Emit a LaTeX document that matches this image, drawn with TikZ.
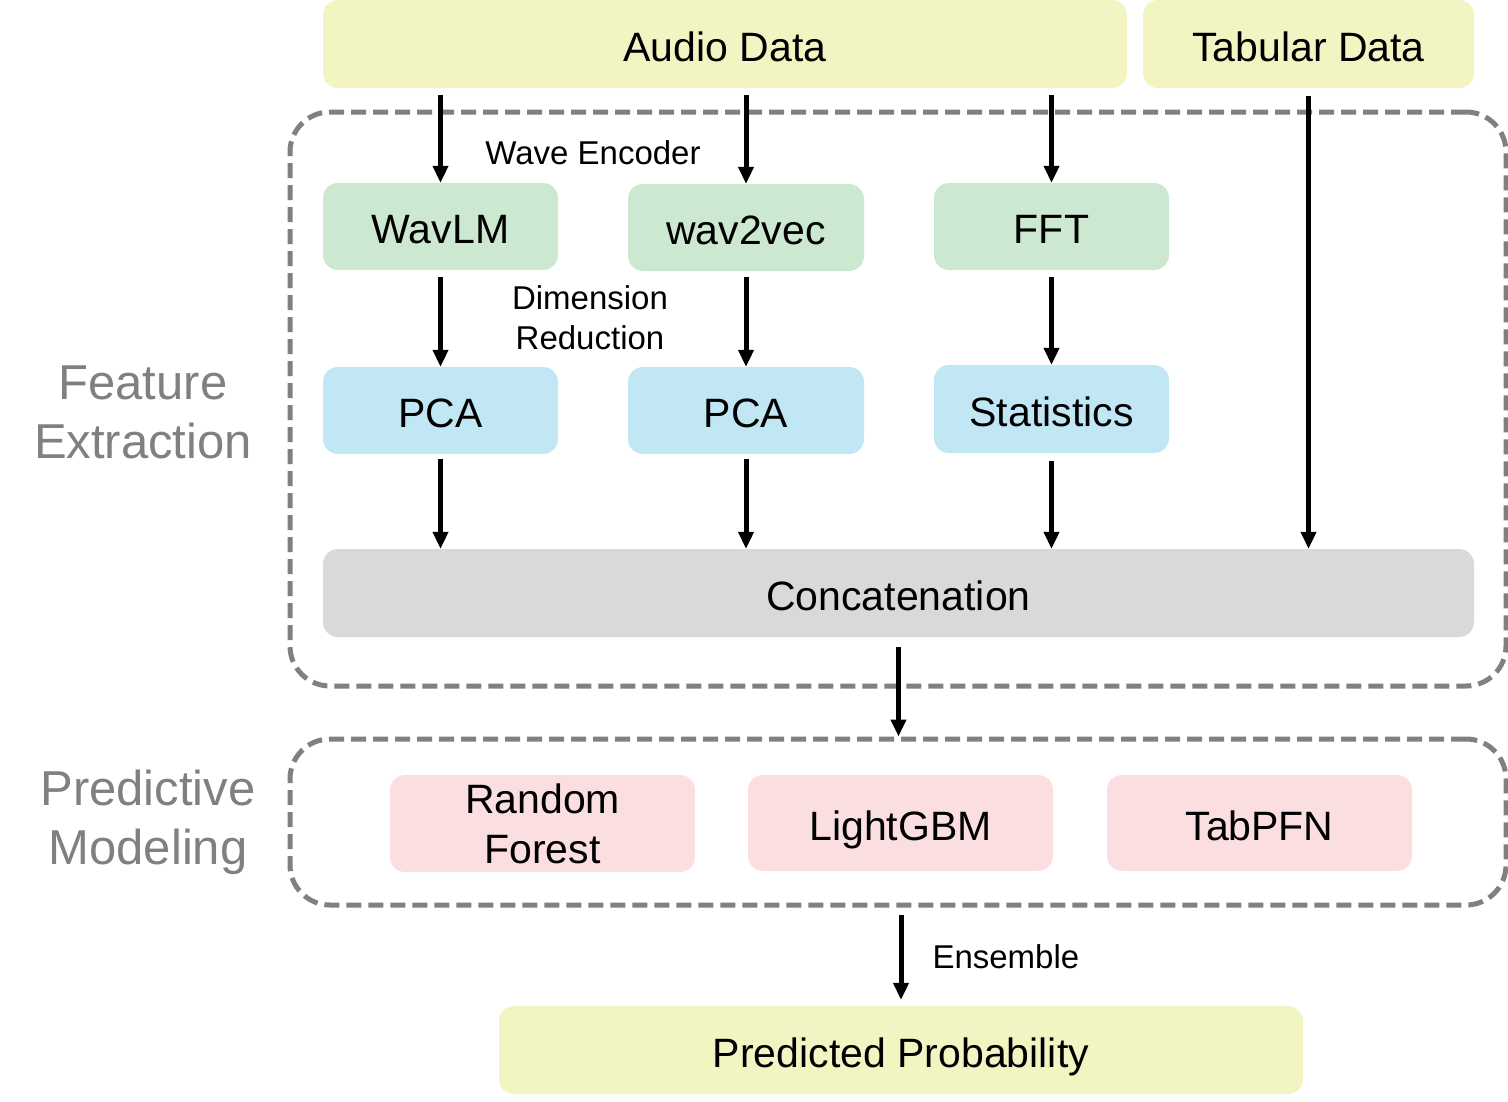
\documentclass[tikz,border=0pt]{standalone}
\usepackage{fontspec}
\setmainfont{Liberation Sans}
\usetikzlibrary{arrows.meta,calc}
\definecolor{cyel}{HTML}{F2F5C2}
\definecolor{cgrn}{HTML}{CDE8D1}
\definecolor{cblu}{HTML}{C1E7F5}
\definecolor{cgry}{HTML}{D9D9D9}
\definecolor{cpnk}{HTML}{FADEE0}
\definecolor{cdash}{HTML}{808080}
\tikzset{
  boxbase/.style={rectangle, rounded corners=15pt, inner sep=0pt, align=center,
    font=\fontsize{41}{50}\selectfont},
  oneline/.style={text height=40pt, text depth=6pt},
  yelbox/.style={boxbase, oneline, fill=cyel},
  grnbox/.style={boxbase, oneline, fill=cgrn},
  blubox/.style={boxbase, oneline, fill=cblu},
  grybox/.style={boxbase, oneline, fill=cgry},
  pnkbox/.style={boxbase, fill=cpnk},
  groupbox/.style={rectangle, rounded corners=40pt, draw=cdash, line width=5pt,
    dash pattern=on 15pt off 7pt, inner sep=0pt},
  sidelabel/.style={text=cdash, align=center, font=\fontsize{49}{59}\selectfont},
  smalllabel/.style={align=center, font=\fontsize{33}{40}\selectfont},
  arr/.style={line width=5pt, -{Triangle[length=17pt,width=15pt]}},
}
\begin{document}
\begin{tikzpicture}[x=1pt,y=-1pt]
\useasboundingbox (0,0) rectangle (1508,1101);
% group boxes
\node[groupbox, minimum width=1216pt, minimum height=574pt] (fe) at (898,399) {};
\node[groupbox, minimum width=1216pt, minimum height=166pt] (pm) at (898,822) {};
% top data
\node[yelbox, minimum width=804pt, minimum height=88pt] (audio) at (725,44) {Audio Data};
\node[yelbox, minimum width=331pt, minimum height=88pt] (tab) at (1308.5,44) {Tabular Data};
% encoders
\node[grnbox, minimum width=235pt, minimum height=87pt] (wavlm) at (440.5,226.5) {WavLM};
\node[grnbox, minimum width=236pt, minimum height=87pt] (w2v) at (746,227.5) {wav2vec};
\node[grnbox, minimum width=235pt, minimum height=87pt] (fft) at (1051.5,226.5) {FFT};
% reduction
\node[blubox, minimum width=235pt, minimum height=87pt] (pca1) at (440.5,410.5) {PCA};
\node[blubox, minimum width=236pt, minimum height=87pt] (pca2) at (746,410.5) {PCA};
\node[blubox, minimum width=235pt, minimum height=88pt] (stats) at (1051.5,409) {Statistics};
% concat
\node[grybox, minimum width=1151pt, minimum height=88pt] (concat) at (898.5,593) {Concatenation};
% models
\node[pnkbox, minimum width=305pt, minimum height=97pt] (rf) at (542.5,823.5) {Random\\Forest};
\node[pnkbox, oneline, minimum width=305pt, minimum height=96pt] (lgbm) at (900.5,823) {LightGBM};
\node[pnkbox, oneline, minimum width=305pt, minimum height=96pt] (tabpfn) at (1259.5,823) {TabPFN};
% output
\node[yelbox, minimum width=804pt, minimum height=88pt] (pred) at (901,1050) {Predicted Probability};
% side labels
\node[sidelabel] (felab) at (143,412) {Feature\\Extraction};
\node[sidelabel] (pmlab) at (148,822) {Predictive\\Modeling};
% small labels
\node[smalllabel] (wavelab) at (593,153) {Wave Encoder};
\node[smalllabel] (dimlab) at (590,318) {Dimension\\Reduction};
\node[smalllabel, anchor=west] (enslab) at (929,957) {Ensemble};
% arrows
\draw[arr] ([yshift=-7pt]audio.south -| wavlm.north) -- (wavlm.north);
\draw[arr] ([yshift=-7pt]audio.south -| w2v.north) -- (w2v.north);
\draw[arr] ([yshift=-7pt]audio.south -| fft.north) -- (fft.north);
\draw[arr] ([yshift=-8pt]tab.south) -- (concat.north -| tab.south);
\draw[arr] ([yshift=-7pt]wavlm.south) -- (pca1.north);
\draw[arr] ([yshift=-6pt]w2v.south) -- (pca2.north);
\draw[arr] ([yshift=-7pt]fft.south) -- (stats.north);
\draw[arr] ([yshift=-5pt]pca1.south) -- (concat.north -| pca1.south);
\draw[arr] ([yshift=-5pt]pca2.south) -- (concat.north -| pca2.south);
\draw[arr] ([yshift=-8pt]stats.south) -- (concat.north -| stats.south);
\draw[arr] ([yshift=-10pt]concat.south) -- (pm.north -| concat.south);
\draw[arr] ([yshift=-7pt]pm.south -| pred.north) -- ([yshift=6pt]pred.north);
\end{tikzpicture}
\end{document}
